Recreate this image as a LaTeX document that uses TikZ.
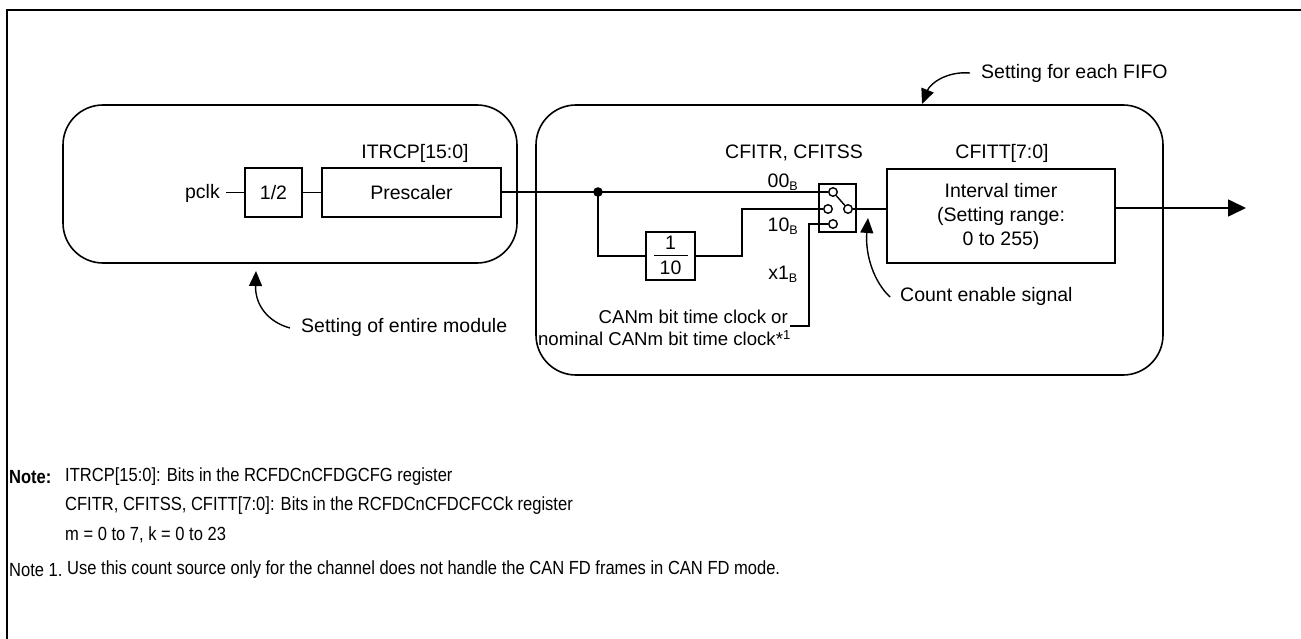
\documentclass[tikz,border=0pt]{standalone}
\usepackage{fontspec}
\setmainfont{Liberation Sans}
\usetikzlibrary{arrows.meta}
\newcommand{\narrowtxt}[1]{\scalebox{0.87}[1]{#1}}
\begin{document}
\begin{tikzpicture}[x=1pt,y=-1pt,
  every node/.style={font=\fontsize{19.5}{24}\selectfont, inner sep=0pt},
  wire/.style={line width=1.6pt},
  blk/.style={draw, line width=1.6pt, minimum height=49pt},
  grp/.style={draw, line width=1.6pt, rounded corners=40pt},
  contact/.style={circle, draw, fill=white, line width=1.4pt, minimum size=8.5pt},
  bigarrow/.style={line width=1.6pt, -{Triangle[length=18pt,width=17pt]}},
  callout/.style={line width=1.4pt, -{Triangle[length=15pt,width=13pt]}},
  notetxt/.style={anchor=west, font=\fontsize{19}{22}\selectfont},
  smalltxt/.style={anchor=east, font=\fontsize{18.6}{22}\selectfont},
]
\useasboundingbox (0,0) rectangle (1301,639);
% frame
\draw[line width=2pt] (7,639) -- (7,10) -- (1301,10);
% groups
\draw[grp] (63,105) rectangle (517,263);
\draw[grp] (536,105) rectangle (1163,375);
% left chain
\node[anchor=east] (pclk) at (220,193) {pclk};
\node[blk, minimum width=57pt] (half) at (273.5,192.5) {1/2};
\node[blk, minimum width=179pt] (pre) at (411.5,192.5) {Prescaler};
\node (itrcp) at (415,153) {ITRCP[15:0]};
\draw[wire] (226,192.5) -- (half.west);
\draw[wire] (half.east) -- (pre.west);
% switch
\node[draw, line width=1.6pt, minimum width=37pt, minimum height=48pt] (sw) at (837.5,208) {};
\node[contact] (c0) at (833,192) {};
\node[contact] (c1) at (828,209) {};
\node[contact] (c2) at (833,224) {};
\node[contact] (co) at (848,209) {};
\draw[line width=1.4pt] (c0) -- (co);
% junction & divider
\coordinate (j) at (598,192);
\fill (j) circle (4.8pt);
\draw[wire] (pre.east |- 0,192) -- (c0.west);
\node[draw, line width=1.6pt, minimum width=49pt, minimum height=48pt] (div) at (670.5,256) {};
\node (one) at (670.5,243) {1};
\node (ten) at (670.5,268) {10};
\draw[line width=1.4pt] (654,255.5) -- (688,255.5);
\draw[wire] (j) |- (div.west);
\draw[wire] (div.east) -| (742,209) -- (c1.west);
% bit clock input
\coordinate (bt) at (790,326);
\draw[wire] (bt) -| (809,224) -- (c2.west);
\node[smalltxt] (can1) at (788,317) {CANm bit time clock or};
\node[smalltxt] (can2) at (791,338) {nominal CANm bit time clock*\textsuperscript{1}};
% labels of switch
\node (l00) at (783,182) {00\textsubscript{\fontsize{12.5}{12}\selectfont B}};
\node (l10) at (783,226) {10\textsubscript{\fontsize{12.5}{12}\selectfont B}};
\node (lx1) at (783,274) {x1\textsubscript{\fontsize{12.5}{12}\selectfont B}};
\node (cfitr) at (794,153) {CFITR, CFITSS};
% interval timer
\node[draw, line width=1.6pt, minimum width=228pt, minimum height=94pt, align=center] (it) at (1001,216) {Interval timer\\(Setting range:\\0 to 255)};
\node (cfitt) at (1002,153) {CFITT[7:0]};
\draw[wire] (co.east) -- (it.west |- co.east);
\coordinate (out) at (1246,208);
\draw[bigarrow] (it.east |- out) -- (out);
% callouts
\node[anchor=west] (fifo) at (981,73) {Setting for each FIFO};
\coordinate (fifotip) at (922,104);
\draw[callout] (fifo.west) ++(-11,0) .. controls (946,71) and (930,84) .. (fifotip);
\node[anchor=west] (ent) at (301,327) {Setting of entire module};
\coordinate (enttip) at (256,271);
\draw[callout] (290,328) .. controls (268,322) and (255,305) .. (enttip);
\node[anchor=west] (cnt) at (900,296) {Count enable signal};
\coordinate (cnttip) at (868,218);
\draw[callout] (890,297) .. controls (874,282) and (865,255) .. (cnttip);
% notes
\node[notetxt] (nt) at (9,477) {\narrowtxt{\bfseries Note:}};
\node[notetxt] (n1) at (65,477) {\narrowtxt{ITRCP[15:0]: Bits in the RCFDCnCFDGCFG register}};
\node[notetxt] (n2) at (65,506) {\narrowtxt{CFITR, CFITSS, CFITT[7:0]: Bits in the RCFDCnCFDCFCCk register}};
\node[notetxt] (n3) at (65,535) {\narrowtxt{m = 0 to 7, k = 0 to 23}};
\node[notetxt] (nn) at (9,570) {\narrowtxt{Note 1.}};
\node[notetxt] (nn1) at (67,570) {\narrowtxt{Use this count source only for the channel does not handle the CAN FD frames in CAN FD mode.}};
\end{tikzpicture}
\end{document}
